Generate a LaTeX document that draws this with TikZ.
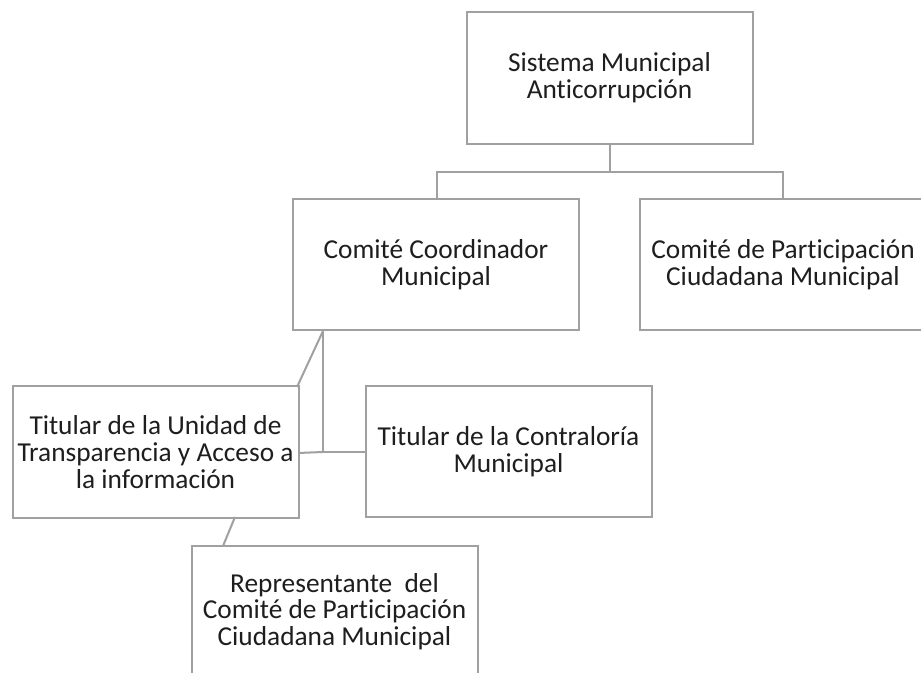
\documentclass[tikz,border=0pt]{standalone}
\usepackage{fontspec}
\setmainfont{Carlito}[RawFeature={-liga;-dlig;-clig}]
\definecolor{linegray}{RGB}{160,160,160}
\definecolor{txt}{RGB}{30,30,30}
\begin{document}
\begin{tikzpicture}[x=0.75pt,y=-0.75pt,
  box/.style={draw=linegray, line width=1.5pt, fill=white, rectangle, inner sep=0pt,
    minimum width=214.5pt, minimum height=98.5pt, align=center, text=txt,
    font=\fontsize{20.5}{20}\selectfont},
  conn/.style={draw=linegray, line width=1.5pt}]
\useasboundingbox (0,0) rectangle (921,673);
\clip (0,0) rectangle (921,673);
\fill[white] (0,0) rectangle (921,673);

\coordinate (j1) at (609.5,172);
\coordinate (jl) at (437,172);
\coordinate (jr) at (783,172);
\coordinate (c1) at (323,331);
\coordinate (c2) at (323,452);
\coordinate (u1) at (297,387);
\coordinate (u2) at (298,453);
\coordinate (k1) at (366,452);
\coordinate (b1) at (235,517);
\coordinate (b2) at (223,546);

\node[box, minimum height=99pt] (smac) at (609.5,78) {Sistema Municipal\\Anticorrupción};
\node[box] (ccm) at (436,264.5) {Comité Coordinador\\Municipal};
\node[box] (cpc) at (783,264.5) {Comité de Participación\\Ciudadana Municipal};
\node[box] (tut) at (155.5,452) {Titular de la Unidad de\\Transparencia y Acceso a\\la información};
\node[box] (tcm) at (508.5,451.5) {Titular de la Contraloría\\Municipal};
\node[box] (rep) at (334.5,611.5) {Representante\ \ del\\Comité de Participación\\Ciudadana Municipal};

\draw[conn] (smac.south) -- (j1);
\draw[conn] (jl |- ccm.north) -- (jl) -- (jr) -- (jr |- cpc.north);
\draw[conn] (c1) -- (u1);
\draw[conn] (c1) -- (c2) -- (k1);
\draw[conn] (u2) -- (c2);
\draw[conn] (b1) -- (b2);
\end{tikzpicture}
\end{document}
